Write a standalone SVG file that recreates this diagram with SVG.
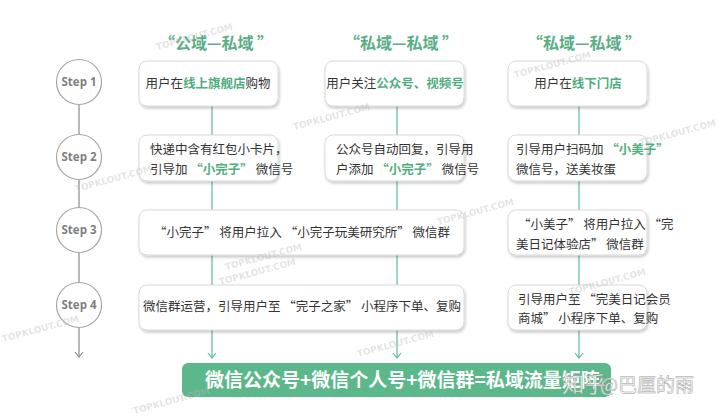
<svg xmlns="http://www.w3.org/2000/svg" width="720" height="416" viewBox="0 0 720 416">
<defs>
<filter id="sh" x="-10%" y="-20%" width="120%" height="150%">
<feDropShadow dx="1" dy="2" stdDeviation="1.6" flood-color="#000" flood-opacity="0.22"/>
</filter>
<marker id="ahg" viewBox="0 0 10 10" refX="5" refY="9" markerWidth="10" markerHeight="10" markerUnits="userSpaceOnUse">
<path d="M1,4 L5,9 L9,4" fill="none" stroke-width="1.2" stroke="#8a8a8a"/>
</marker>
<marker id="aht" viewBox="0 0 10 10" refX="5" refY="9" markerWidth="10" markerHeight="10" markerUnits="userSpaceOnUse">
<path d="M1,4 L5,9 L9,4" fill="none" stroke-width="1.2" stroke="#5fb9a0"/>
</marker>
</defs>
<style>
text{font-family:"Noto Sans CJK SC","Noto Sans",sans-serif;}
.box{fill:#fff;stroke:#d9d9d9;stroke-width:1;filter:url(#sh);}
.t{font-size:12.5px;fill:#333;}
.g{fill:#4fae80;font-weight:bold;}
.h{font-size:16px;fill:#5aae86;font-weight:bold;text-anchor:middle;}
.step{fill:#fff;stroke:#a6a6a6;stroke-width:1.2;}
.st{font-size:11.5px;fill:#7f7f7f;font-weight:bold;text-anchor:middle;font-family:"Open Sans","Noto Sans",sans-serif;}
.wm{font-family:"DejaVu Sans",sans-serif;font-size:9px;font-weight:bold;fill:#bbb;opacity:0.4;}
</style>
<rect width="720" height="416" fill="#fff"/>

<g id="connectors">
<line x1="79" y1="105" x2="79" y2="357" stroke="#8a8a8a" stroke-width="1.2" marker-end="url(#ahg)"/>
<line x1="212" y1="106" x2="212" y2="358" stroke="#5fb9a0" stroke-width="1.2" marker-end="url(#aht)"/>
<line x1="397" y1="106" x2="397" y2="358" stroke="#5fb9a0" stroke-width="1.2" marker-end="url(#aht)"/>
<line x1="579" y1="106" x2="579" y2="358" stroke="#5fb9a0" stroke-width="1.2" marker-end="url(#aht)"/>
</g>

<g id="headers">
<text class="h" x="216" y="49">“公域—私域 ”</text>
<text class="h" x="401" y="49">“私域—私域 ”</text>
<text class="h" x="584" y="49">“私域—私域 ”</text>
</g>

<g id="step1"><circle class="step" cx="79" cy="82" r="22.5"/><text class="st" x="79" y="86">Step 1</text></g>
<g id="step2"><circle class="step" cx="79" cy="157" r="22.5"/><text class="st" x="79" y="161">Step 2</text></g>
<g id="step3"><circle class="step" cx="79" cy="230" r="22.5"/><text class="st" x="79" y="234">Step 3</text></g>
<g id="step4"><circle class="step" cx="79" cy="305" r="22.5"/><text class="st" x="79" y="309">Step 4</text></g>

<g id="c1s1"><rect class="box" x="139" y="61" width="139" height="45" rx="8"/>
<text class="t" x="208" y="88" text-anchor="middle">用户在<tspan class="g" font-weight="normal">线上旗舰店</tspan>购物</text></g>
<g id="c2s1"><rect class="box" x="325" y="61" width="139" height="45" rx="8"/>
<text class="t" x="395" y="88" text-anchor="middle">用户关注<tspan class="g">公众号、视频号</tspan></text></g>
<g id="c3s1"><rect class="box" x="508" y="61" width="139" height="45" rx="8"/>
<text class="t" x="578" y="88" text-anchor="middle">用户在<tspan class="g">线下门店</tspan></text></g>

<g id="c1s2"><rect class="box" x="139" y="135" width="139" height="46" rx="8"/>
<text class="t" x="150" y="154">快递中含有红包小卡片，</text>
<text class="t" x="150" y="174">引导加 <tspan class="g">“小完子”</tspan> 微信号</text></g>
<g id="c2s2"><rect class="box" x="325" y="135" width="139" height="46" rx="8"/>
<text class="t" x="336" y="154">公众号自动回复，引导用</text>
<text class="t" x="336" y="174">户添加 <tspan class="g">“小完子”</tspan> 微信号</text></g>
<g id="c3s2"><rect class="box" x="508" y="135" width="139" height="46" rx="8"/>
<text class="t" x="516" y="154">引导用户扫码加 <tspan class="g">“小美子”</tspan></text>
<text class="t" x="516" y="174">微信号，送美妆蛋</text></g>

<g id="c12s3"><rect class="box" x="139" y="210" width="325" height="45" rx="8"/>
<text class="t" x="302" y="237" text-anchor="middle">“小完子” 将用户拉入 “小完子玩美研究所” 微信群</text></g>
<g id="c3s3"><rect class="box" x="508" y="210" width="139" height="45" rx="8"/>
<text class="t" x="518" y="229">“小美子” 将用户拉入 “完</text>
<text class="t" x="516" y="249">美日记体验店” 微信群</text></g>

<g id="c12s4"><rect class="box" x="139" y="285" width="325" height="45" rx="8"/>
<text class="t" x="302" y="311" text-anchor="middle">微信群运营，引导用户至 “完子之家” 小程序下单、复购</text></g>
<g id="c3s4"><rect class="box" x="508" y="285" width="139" height="45" rx="8"/>
<text class="t" x="518" y="304" font-size="12">引导用户至 “完美日记会员</text>
<text class="t" x="518" y="323" font-size="12">商城” 小程序下单、复购</text></g>

<g id="result"><rect x="182" y="363" width="429" height="34" rx="6" fill="#5cb78b"/>
<text x="205" y="387" font-size="19" font-weight="bold" fill="#fff">微信公众号+微信个人号+微信群=私域流量矩阵</text></g>

<g id="watermarks">
<text class="wm" transform="translate(157,50) rotate(-15)">TOPKLOUT.COM</text>
<text class="wm" transform="translate(294,130) rotate(-15)">TOPKLOUT.COM</text>
<text class="wm" transform="translate(515,78) rotate(-15)">TOPKLOUT.COM</text>
<text class="wm" transform="translate(76,192) rotate(-15)">TOPKLOUT.COM</text>
<text class="wm" transform="translate(226,270) rotate(-15)">TOPKLOUT.COM</text>
<text class="wm" transform="translate(640,146) rotate(-15)">TOPKLOUT.COM</text>
<text class="wm" transform="translate(438,225) rotate(-15)">TOPKLOUT.COM</text>
<text class="wm" transform="translate(3,342) rotate(-15)">TOPKLOUT.COM</text>
<text class="wm" transform="translate(220,285) rotate(-15)">TOPKLOUT.COM</text>
<text class="wm" transform="translate(134,414) rotate(-15)">TOPKLOUT.COM</text>
<text class="wm" transform="translate(358,357) rotate(-15)">TOPKLOUT.COM</text>
<text class="wm" transform="translate(570,295) rotate(-15)">TOPKLOUT.COM</text>
<text x="562" y="392" font-size="22" fill="#fff" fill-opacity="0.85" stroke="#888" stroke-width="0.4">知乎</text>
<text x="600" y="392" font-size="19" fill="#fff" stroke="#999" stroke-width="0.5">@巴厘的雨</text>
</g>
</svg>
